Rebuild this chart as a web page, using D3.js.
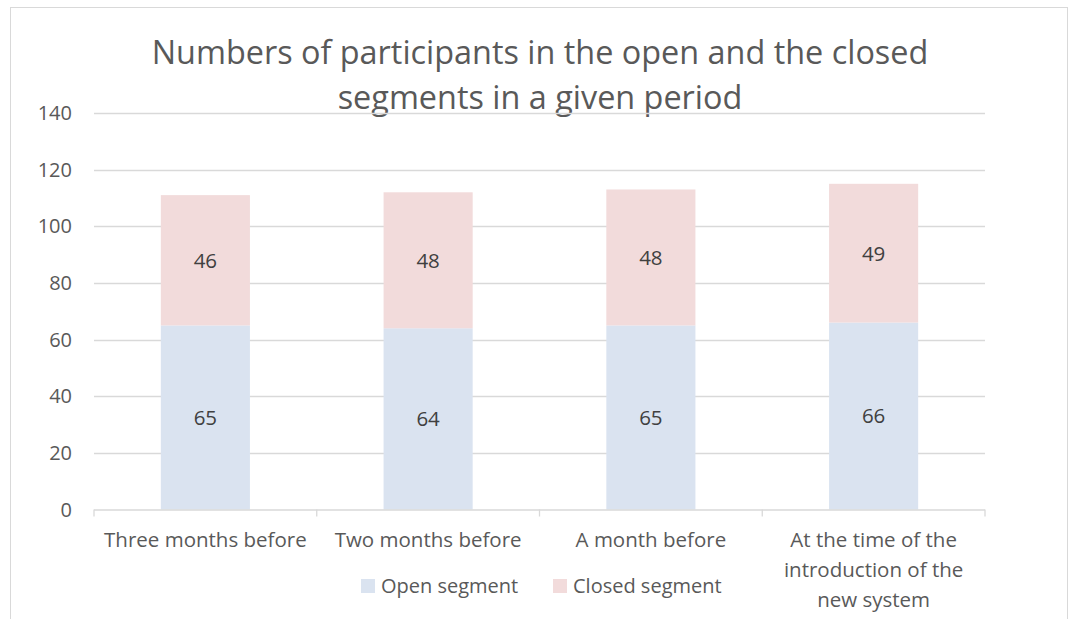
<!DOCTYPE html>
<html>
<head>
<meta charset="utf-8">
<script src="https://cdn.jsdelivr.net/npm/d3@7"></script>
<style>
  body { margin: 0; background: #fff; }
  svg { display: block; font-family: "Open Sans", "Noto Sans", sans-serif; }
</style>
</head>
<body>
<div id="chart"></div>
<script>
const categories = ["Three months before", "Two months before", "A month before", "At the time of the introduction of the new system"];
const openSegment = [65, 64, 65, 66];
const closedSegment = [46, 48, 48, 49];
const seriesNames = ["Open segment", "Closed segment"];
const yTicks = [0, 20, 40, 60, 80, 100, 120, 140];
const COLORS = ["#dae3f0", "#f2dbdb"];

const W = 1069, H = 619;
const margin = {top: 113, right: 84, bottom: 110, left: 94};
const width = W - margin.left - margin.right,
      height = 509.5 - margin.top;

const svg = d3.select("#chart").append("svg")
  .attr("width", W).attr("height", H);

// outer chart frame
svg.append("rect")
  .attr("x", 10.5).attr("y", 7.5)
  .attr("width", 1057).attr("height", 640)
  .attr("fill", "none").attr("stroke", "#d9d9d9");

// title
const title = svg.append("text")
  .attr("text-anchor", "middle")
  .style("font-size", "32.4px")
  .style("fill", "#595959");
title.append("tspan").attr("x", 540).attr("y", 64).text("Numbers of participants in the open and the closed");
title.append("tspan").attr("x", 540).attr("y", 109).text("segments in a given period");

const g = svg.append("g").attr("transform", `translate(${margin.left},${margin.top})`);

const y = d3.scaleLinear().domain([0, 140]).range([height, 0]);
const x = d3.scaleBand().domain(categories).range([0, width]).padding(0);

// gridlines
g.selectAll(".grid").data(yTicks.slice(1)).enter()
  .append("line")
  .attr("x1", 0).attr("x2", width)
  .attr("y1", d => Math.round(y(d)) + 0.5).attr("y2", d => Math.round(y(d)) + 0.5)
  .attr("stroke", "#d9d9d9").attr("stroke-width", 1.3);

// y labels
g.selectAll(".ylab").data(yTicks).enter()
  .append("text")
  .attr("x", -22).attr("y", d => y(d))
  .attr("dy", "0.36em")
  .attr("text-anchor", "end")
  .style("font-size", "20px").style("fill", "#595959")
  .text(d => d);

// stacked data
const rows = categories.map((c, i) => ({cat: c, open: openSegment[i], closed: closedSegment[i]}));
const stack = d3.stack().keys(["open", "closed"])(rows);

const barW = x.bandwidth() * 0.4;
const layer = g.selectAll(".layer").data(stack).enter()
  .append("g").attr("fill", (d, i) => COLORS[i]);

layer.selectAll("rect").data(d => d).enter()
  .append("rect")
  .attr("x", d => x(d.data.cat) + (x.bandwidth() - barW) / 2)
  .attr("y", d => y(d[1]))
  .attr("width", barW)
  .attr("height", d => y(d[0]) - y(d[1]));

layer.selectAll("text").data(d => d).enter()
  .append("text")
  .attr("x", d => x(d.data.cat) + x.bandwidth() / 2)
  .attr("y", d => (y(d[0]) + y(d[1])) / 2)
  .attr("dy", "0.36em")
  .attr("text-anchor", "middle")
  .style("font-size", "20.5px").style("fill", "#404040")
  .text(d => d[1] - d[0]);

// x axis
g.append("line")
  .attr("x1", 0).attr("x2", width)
  .attr("y1", height + 0.5).attr("y2", height + 0.5)
  .attr("stroke", "#d9d9d9").attr("stroke-width", 1.3);
const tickPos = categories.map(c => x(c)).concat([width]);
g.selectAll(".xtick").data(tickPos).enter()
  .append("line")
  .attr("x1", d => d).attr("x2", d => d)
  .attr("y1", height).attr("y2", height + 7)
  .attr("stroke", "#d9d9d9").attr("stroke-width", 1.3);

// x labels, wrapped to band width
const xLabelLines = [["Three months before"], ["Two months before"], ["A month before"], ["At the time of the", "introduction of the", "new system"]];
g.selectAll(".xlab").data(categories).enter()
  .append("text")
  .attr("text-anchor", "middle")
  .style("font-size", "20.5px").style("fill", "#595959")
  .each(function(d, i) {
    const t = d3.select(this);
    xLabelLines[i].forEach((ln, k) => {
      t.append("tspan")
        .attr("x", x(d) + x.bandwidth() / 2)
        .attr("y", height + 37 + k * 30)
        .text(ln);
    });
  });

// legend
const legend = svg.append("g");
const legendX = [361, 553];
seriesNames.forEach((name, i) => {
  legend.append("rect")
    .attr("x", legendX[i]).attr("y", 579)
    .attr("width", 14).attr("height", 14)
    .attr("fill", COLORS[i]);
  legend.append("text")
    .attr("x", legendX[i] + 20).attr("y", 586)
    .attr("dy", "0.36em")
    .style("font-size", "20px").style("fill", "#595959")
    .text(name);
});
</script>
</body>
</html>
